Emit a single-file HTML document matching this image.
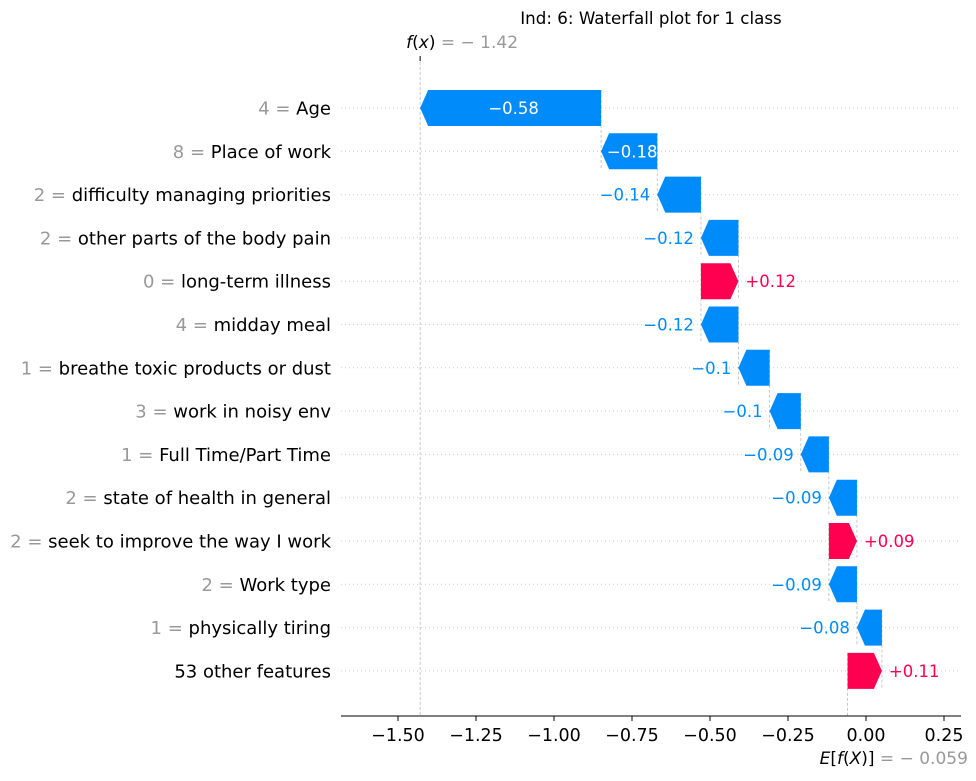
<!DOCTYPE html>
<html><head><meta charset="utf-8"><style>
body{margin:0;background:#fff;}
svg text{font-family:"DejaVu Sans","Liberation Sans",sans-serif;}
</style></head><body>
<svg id="chart" width="976" height="776" viewBox="0 0 976 776" xmlns="http://www.w3.org/2000/svg">
<text x="651" y="24" font-size="16.7" text-anchor="middle" fill="#000">Ind: 6: Waterfall plot for 1 class</text>
<g id="grid"></g><g id="conn"></g><g id="bars"></g><g id="labels"></g><g id="axis"></g>
</svg>
<script>
const featureValues = ["4","8","2","2","0","4","1","3","1","2","2","2","1",""];
const featureNames = ["Age","Place of work","difficulty managing priorities","other parts of the body pain","long-term illness","midday meal","breathe toxic products or dust","work in noisy env","Full Time/Part Time","state of health in general","seek to improve the way I work","Work type","physically tiring","53 other features"];
const shapValues = [-0.58,-0.18,-0.14,-0.12,0.12,-0.12,-0.10,-0.10,-0.09,-0.09,0.09,-0.09,-0.08,0.11];
const valueLabels = ["\u22120.58","\u22120.18","\u22120.14","\u22120.12","+0.12","\u22120.12","\u22120.1","\u22120.1","\u22120.09","\u22120.09","+0.09","\u22120.09","\u22120.08","+0.11"];
const baseValue = -0.059;
const fxValue = -1.42;
const xTicks = [-1.5,-1.25,-1.0,-0.75,-0.5,-0.25,0,0.25];
const xTickLabels = ["\u22121.50","\u22121.25","\u22121.00","\u22120.75","\u22120.50","\u22120.25","0.00","0.25"];

const NS="http://www.w3.org/2000/svg";
const X = v => 866 + v*312;
const Y = i => 108 + i*43.3;
const H = 36, HEAD = 8;
function mk(tag, attrs, parent){const e=document.createElementNS(NS,tag);for(const k in attrs)e.setAttribute(k,attrs[k]);document.getElementById(parent).appendChild(e);return e;}

const n = shapValues.length;
const starts = new Array(n), ends = new Array(n);
let cur = baseValue;
for(let i=n-1;i>=0;i--){starts[i]=cur;cur+=shapValues[i];ends[i]=cur;}
const fx = ends[0];

for(let i=0;i<n;i++){
  const g=mk('line',{x1:341,x2:961,y1:Y(i),y2:Y(i),stroke:'#ccc','stroke-width':1,'stroke-dasharray':'1,3'},'grid');
  
  
}
const fl=mk('line',{x1:X(fx),x2:X(fx),y1:57,y2:716,stroke:'#bbb','stroke-width':0.8,'stroke-dasharray':'3,2'},'conn');


mk('line',{x1:X(fx),x2:X(fx),y1:56,y2:61,stroke:'#000','stroke-width':1},'conn');
const el=mk('line',{x1:X(baseValue),x2:X(baseValue),y1:Y(n-1)-H/2,y2:716,stroke:'#bbb','stroke-width':0.8,'stroke-dasharray':'3,2'},'conn');


for(let i=1;i<n;i++){
  const c=mk('line',{x1:X(starts[i-1]),x2:X(starts[i-1]),y1:Y(i-1)-H/2,y2:Y(i)+H/2,stroke:'#bbb','stroke-width':0.8,'stroke-dasharray':'3,2'},'conn');
  
  
}
for(let i=0;i<n;i++){
  const v=shapValues[i], s=X(starts[i]), e=X(ends[i]), y=Y(i);
  const pos=v>0, col=pos?'#ff0051':'#008bfb';
  const w=Math.abs(e-s), head=Math.min(HEAD,w);
  let pts;
  if(pos) pts=[[s,y-H/2],[e-head,y-H/2],[e,y],[e-head,y+H/2],[s,y+H/2]];
  else pts=[[s,y-H/2],[e+head,y-H/2],[e,y],[e+head,y+H/2],[s,y+H/2]];
  const p=mk('polygon',{points:pts.map(q=>q.join(',')).join(' '),fill:col},'bars');
  
  
  let t;
  if(w>50){
    t=mk('text',{x:(s+e)/2+(pos?-3:3),y:y+6,'font-size':16.5,'text-anchor':'middle',fill:'#fff'},'labels');
  } else {
    t=mk('text',{x:pos?e+7:e-7,y:y+6,'font-size':16.5,'text-anchor':pos?'start':'end',fill:col},'labels');
  }
  t.textContent=valueLabels[i];
  
  
  const fl2=mk('text',{x:331,y:y+6.5,'font-size':18,'text-anchor':'end',fill:'#000'},'labels');
  
  
  if(featureValues[i]!==''){
    const ts=document.createElementNS(NS,'tspan');ts.setAttribute('fill','#999');ts.textContent=featureValues[i]+' = ';fl2.appendChild(ts);
  }
  const ts2=document.createElementNS(NS,'tspan');ts2.textContent=featureNames[i];fl2.appendChild(ts2);
}
const ax=mk('line',{x1:341,x2:961,y1:716,y2:716,stroke:'#000','stroke-width':1},'axis');


xTicks.forEach((v,k)=>{
  mk('line',{x1:X(v),x2:X(v),y1:716,y2:721,stroke:'#000','stroke-width':1},'axis');
  const t=mk('text',{x:X(v),y:741,'font-size':17.5,'text-anchor':'middle',fill:'#000'},'axis');
  t.textContent=xTickLabels[k];
  
  
});
const ft=mk('text',{x:X(fx)-14,y:48,'font-size':17,fill:'#000'},'axis');


ft.innerHTML='<tspan font-style="italic">f</tspan>(<tspan font-style="italic">x</tspan>)<tspan fill="#999"> = \u2212 1.42</tspan>';
const et=mk('text',{x:X(baseValue)-28,y:764,'font-size':17,fill:'#000'},'axis');


et.innerHTML='<tspan font-style="italic">E</tspan>[<tspan font-style="italic">f</tspan>(<tspan font-style="italic">X</tspan>)]<tspan fill="#999"> = \u2212 0.059</tspan>';
</script>
</body></html>
